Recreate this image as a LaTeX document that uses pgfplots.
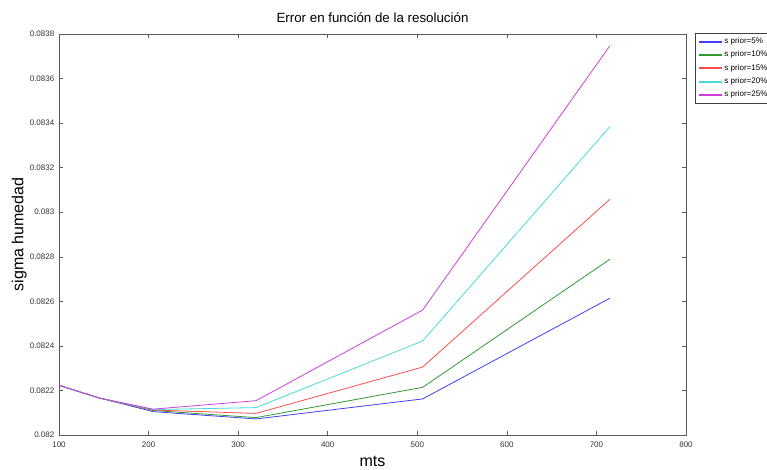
\documentclass[border=0pt]{standalone}
\usepackage{fontspec}
\setmainfont{Liberation Sans}
\usepackage{pgfplots}
\pgfplotsset{compat=1.18}

\definecolor{cblue}{rgb}{0.25,0.25,1}
\definecolor{cgreen}{rgb}{0.2,0.6,0.2}
\definecolor{cred}{rgb}{1,0.3,0.3}
\definecolor{ccyan}{rgb}{0.3,0.85,0.85}
\definecolor{cmag}{rgb}{0.8,0.25,0.85}

\begin{document}
\begin{tikzpicture}
\begin{axis}[
    name=ax,
    scale only axis,
    width=470.25pt, height=300.75pt,
    xmin=100, xmax=800,
    ymin=0.082, ymax=0.0838,
    xtick={100,200,300,400,500,600,700,800},
    ytick={0.082,0.0822,0.0824,0.0826,0.0828,0.083,0.0832,0.0834,0.0836,0.0838},
    scaled y ticks=false,
    yticklabel style={/pgf/number format/fixed, /pgf/number format/precision=4},
    /pgf/number format/assume math mode=true,
    tick label style={font=\fontsize{6}{7}\selectfont, text=black!80},
    xticklabel style={yshift=-1.5pt},
    major tick length=3pt,
    tick align=inside,
    axis line style={black!65},
    every tick/.style={black!65},
    title={Error en función de la resolución},
    title style={font=\fontsize{10}{12}\selectfont, at={(axis description cs:0.5,1)}, anchor=base, yshift=2.5pt},
    xlabel={mts},
    xlabel style={font=\fontsize{12}{14}\selectfont, at={(axis description cs:0.5,0)}, anchor=base, yshift=-24pt},
    ylabel={sigma humedad},
    ylabel style={font=\fontsize{12}{14}\selectfont, at={(axis description cs:-0.057,0.5)}, anchor=base},
    legend cell align=left,
    legend image code/.code={\draw[#1, line width=1.4pt] (0pt,0pt) -- (17pt,0pt);},
    legend style={at={(axis description cs:1,1)}, anchor=north west, xshift=6.75pt, yshift=0.5pt,
        font=\fontsize{6}{7}\selectfont, draw=black!75, inner xsep=2pt, inner ysep=3pt,
        row sep=4pt, nodes={inner ysep=0pt, inner xsep=1.5pt, text height=4.5pt, text depth=1.5pt}},
    every axis plot/.append style={line width=0.6pt},
]
\addplot[cblue] coordinates {
(100,0.082223) (145,0.082166) (205,0.082105) (320,0.082072) (506,0.082162) (715,0.082614)
};
\addlegendentry{s prior=5\%}
\addplot[cgreen] coordinates {
(100,0.082223) (145,0.082166) (205,0.082110) (320,0.082078) (506,0.082214) (715,0.082789)
};
\addlegendentry{s prior=10\%}
\addplot[cred] coordinates {
(100,0.082223) (145,0.082166) (205,0.082112) (320,0.082097) (506,0.082305) (715,0.083058)
};
\addlegendentry{s prior=15\%}
\addplot[ccyan] coordinates {
(100,0.082223) (145,0.082166) (205,0.082114) (320,0.082123) (506,0.082422) (715,0.083384)
};
\addlegendentry{s prior=20\%}
\addplot[cmag] coordinates {
(100,0.082223) (145,0.082166) (205,0.082116) (320,0.082154) (506,0.082561) (715,0.083747)
};
\addlegendentry{s prior=25\%}
\end{axis}
\pgfresetboundingbox
\path[use as bounding box] ([xshift=-44.25pt,yshift=-26.25pt]ax.south west) rectangle ([xshift=60.75pt,yshift=25.5pt]ax.north east);
\end{tikzpicture}
\end{document}
